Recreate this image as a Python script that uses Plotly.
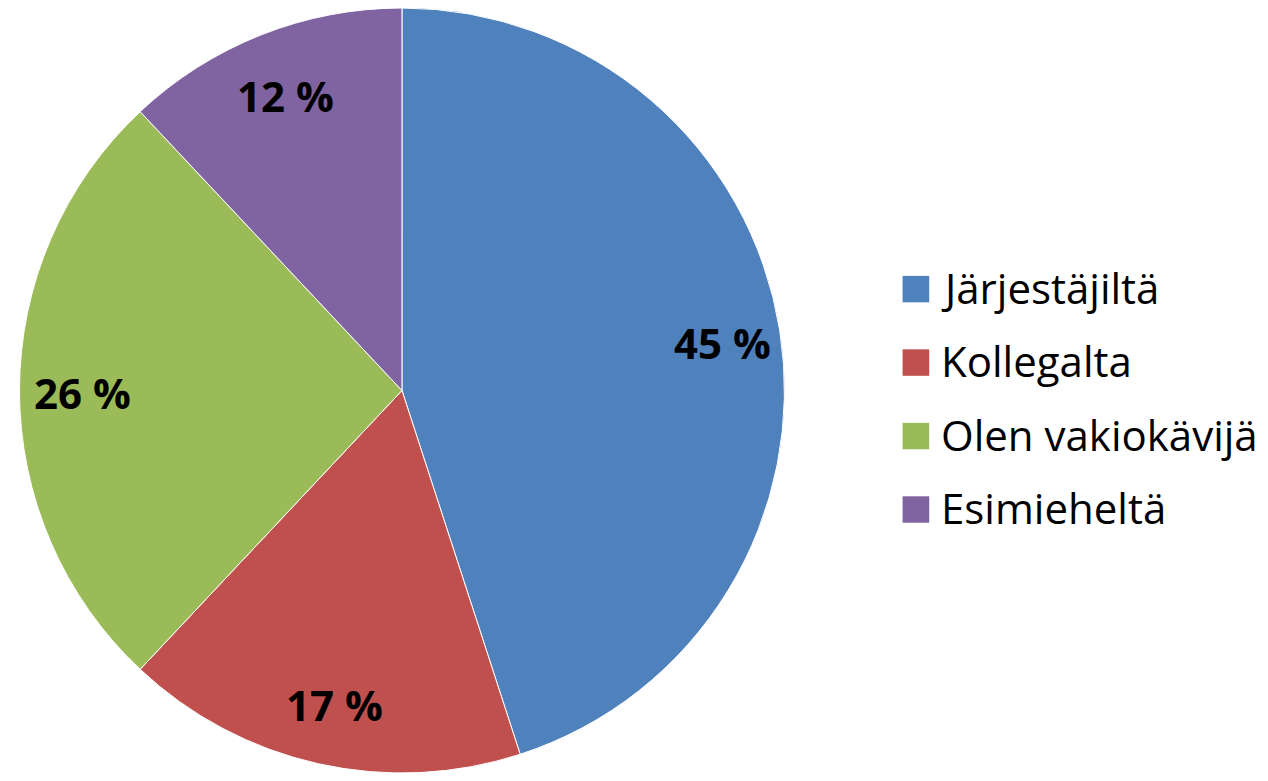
import math
import plotly.graph_objects as go

labels = ["Järjestäjiltä", "Kollegalta", "Olen vakiokävijä", "Esimieheltä"]
values = [45, 17, 26, 12]
colors = ["#4F81BD", "#C0504D", "#9BBB59", "#8064A2"]

W, H = 1268, 781
cx = 401.5        # rendered pie centre x in px
cy = H / 2        # pie fills the full height
R = 381.5         # effective rendered radius

fig = go.Figure(go.Pie(
    labels=labels, values=values, sort=False, direction="clockwise", rotation=0,
    marker=dict(colors=colors, line=dict(color="white", width=1)),
    textinfo="none", hoverinfo="label+percent", showlegend=False,
    domain=dict(x=[399 / W - 0.31, 399 / W + 0.31], y=[0, 1]),
))

# data labels along slice bisector
total = sum(values)
cum = 0
annotations = []
for v in values:
    mid = (cum + v / 2) / total * 2 * math.pi
    cum += v
    px = cx + 0.855 * R * math.sin(mid)
    py = cy + 2 - 0.855 * R * math.cos(mid)
    annotations.append(dict(x=px / W, y=1 - py / H, xref="paper", yref="paper",
                            xanchor="center", yanchor="middle",
                            text=f"<b>{v} %</b>", showarrow=False,
                            font=dict(family="Open Sans", size=42, color="black")))

# custom legend
shapes = []
for i, (lab, col) in enumerate(zip(labels, colors)):
    yc = 287 + 75 * i
    shapes.append(dict(type="rect", xref="paper", yref="paper",
                       x0=906 / W, x1=933 / W, y0=1 - (yc + 13.5) / H, y1=1 - (yc - 13.5) / H,
                       fillcolor=col, line=dict(width=0)))
    annotations.append(dict(x=943 / W, y=1 - (yc - 2) / H, xref="paper", yref="paper",
                            text=lab, showarrow=False, xanchor="left", yanchor="middle",
                            font=dict(family="Open Sans", size=42, color="black")))

fig.update_layout(
    margin=dict(l=0, r=0, t=0, b=0),
    paper_bgcolor="white", plot_bgcolor="white",
    annotations=annotations, shapes=shapes,
)

fig.write_html("out.html")
